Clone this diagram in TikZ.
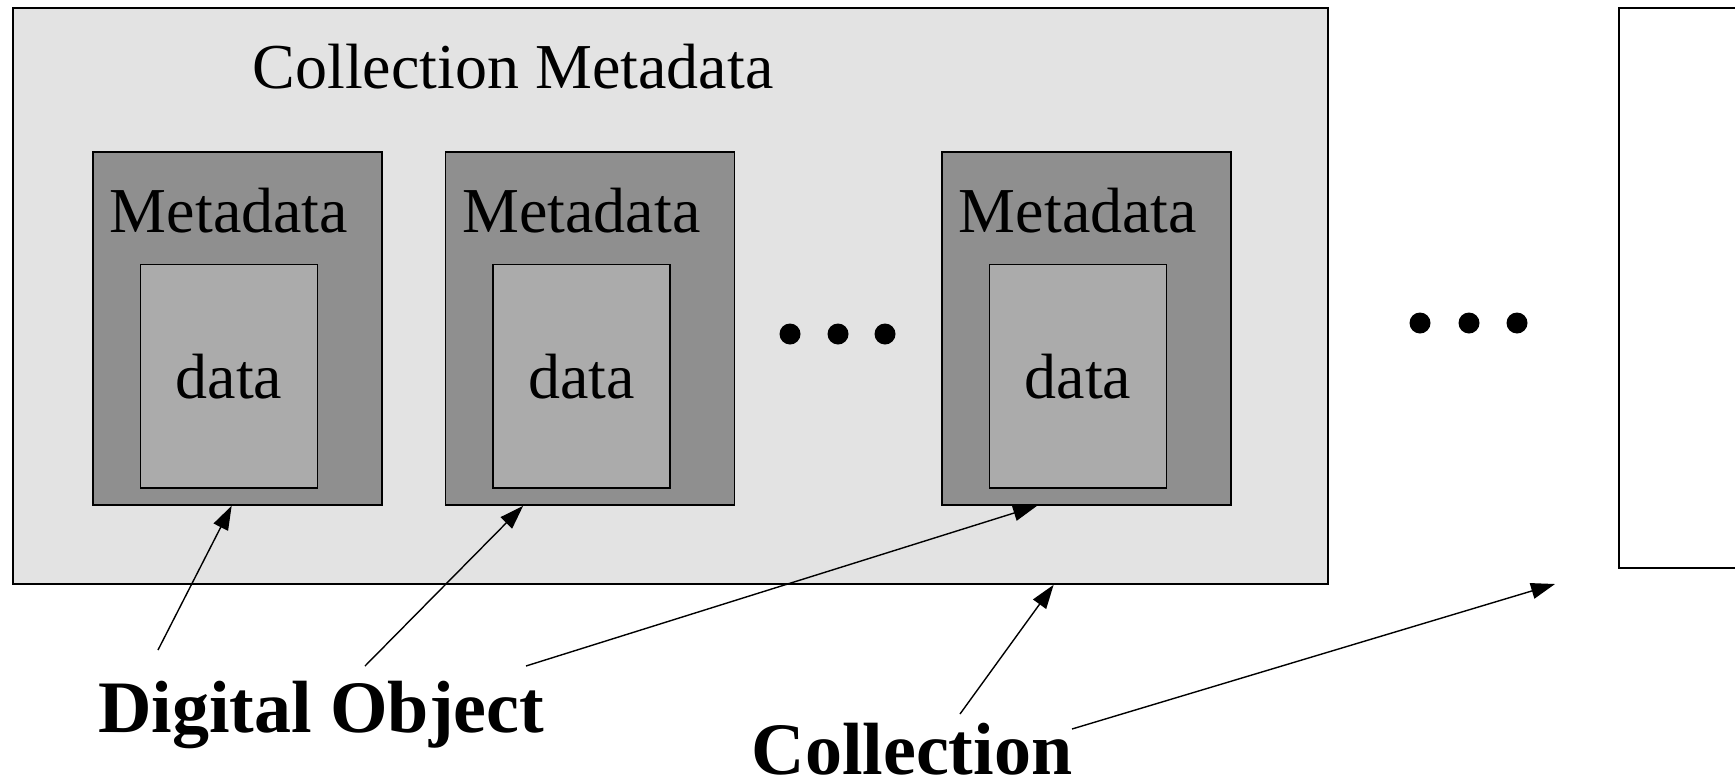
\documentclass[tikz,border=0pt]{standalone}
\usepackage{fontspec}
\setmainfont{Liberation Serif}
\usetikzlibrary{arrows.meta,calc}
\definecolor{collgray}{gray}{0.89}
\definecolor{metagray}{gray}{0.56}
\definecolor{datagray}{gray}{0.67}

\begin{document}
\begin{tikzpicture}[x=0.5pt,y=-0.5pt,
  box/.style={draw,line width=0.8pt,inner sep=0pt},
  metabox/.style={box,fill=metagray,minimum width=144.5pt,minimum height=176.5pt},
  databox/.style={box,fill=datagray,minimum width=88.5pt,minimum height=111.75pt,font=\fontsize{32}{36}\selectfont},
  lbl/.style={anchor=base,inner sep=0pt,font=\fontsize{32}{36}\selectfont},
  biglbl/.style={anchor=base,inner sep=0pt,font=\fontsize{37}{42}\selectfont\bfseries},
  pointer/.style={line width=0.7pt,-{Triangle[length=12pt,width=8pt]}}]
\useasboundingbox (0,0) rectangle (1735,782);
\clip (0,0) rectangle (1735,782);
\node[box,fill=collgray,minimum width=657.5pt,minimum height=288pt] (coll) at (670.5,296) {};
\node[box,fill=white,minimum width=100pt,minimum height=280pt] (next) at (1719,288) {};
\node[lbl] (colltitle) at (513,88) {Collection Metadata};
\node[metabox] (meta1) at (237.5,328.5) {};
\node[metabox] (meta2) at (590,328.5) {};
\node[metabox] (meta3) at (1086.5,328.5) {};
\node[databox] (data1) at (229,376.25) {data};
\node[databox] (data2) at (581.5,376.25) {data};
\node[databox] (data3) at (1078,376.25) {data};
\node[lbl] (mlab1) at (229,232) {Metadata};
\node[lbl] (mlab2) at (581.5,232) {Metadata};
\node[lbl] (mlab3) at (1078,232) {Metadata};
\foreach \x in {790,838,885} \fill (\x,334) circle (10.5);
\foreach \x in {1420,1469,1517} \fill (\x,323) circle (10.5);
\node[biglbl] (dobj) at (321,732) {Digital Object};
\node[biglbl] (colllab) at (912,774) {Collection};
\coordinate (do1) at (158,650);
\coordinate (do2) at (365,666);
\coordinate (do3) at (526,666);
\coordinate (cl1) at (960,714);
\coordinate (cl2) at (1072,729);
\coordinate (gap) at (1555,584);
\draw[pointer] (do1) -- ($(meta1.south west)!0.48!(meta1.south east)$);
\draw[pointer] (do2) -- ($(meta2.south west)!0.27!(meta2.south east)$);
\draw[pointer] (do3) -- ($(meta3.south west)!0.33!(meta3.south east)$);
\draw[pointer] (cl1) -- ($(coll.south west)!0.791!(coll.south east)$);
\draw[pointer] (cl2) -- (gap);
\end{tikzpicture}
\end{document}
